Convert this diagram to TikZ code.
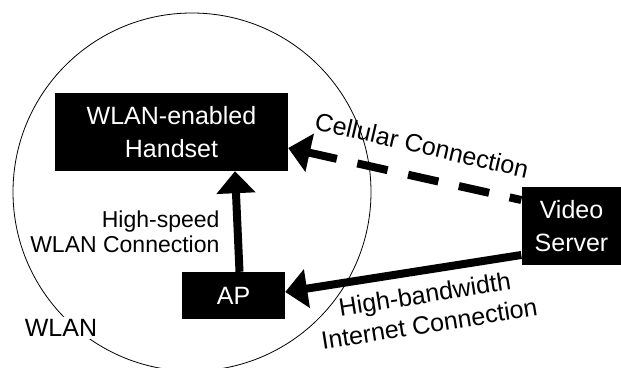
\documentclass[tikz,border=0pt]{standalone}
\usepackage{fontspec}
\setmainfont{Liberation Sans}
\usepackage{tikz}
\usetikzlibrary{
  arrows.meta,
  positioning
}

\begin{document}
\begin{tikzpicture}[x=1pt, y=-1pt, font=\fontsize{25}{30}\selectfont,
  unit/.style={fill=black, text=white, align=center, inner sep=0pt,
    font=\fontsize{25}{33}\selectfont},
  link/.style={line width=8pt, -{Triangle[length=22pt,width=38pt]}}]
  \useasboundingbox (0,0) rectangle (621,367);
  \clip (0,0) rectangle (621,367);
  % WLAN coverage
  \draw[line width=0.8pt] (192,192) circle[radius=179];
  \node[fill=white, inner sep=2pt] (wlan) at (61,328) {WLAN};
  % boxes
  \foreach \nm/\x/\y/\w/\h/\txt in {handset/171.5/132/233/78/{WLAN-enabled\\Handset},
      ap/233.5/295.5/103/47/{AP}, server/571.5/226/100/78/{Video\\Server}}{
    \node[unit, minimum width=\w pt, minimum height=\h pt] (\nm) at (\x,\y) {\txt};
  }
  % connections
  \draw[link] ([xshift=6pt]ap.north) -- ([xshift=63.5pt]handset.south);
  \draw[link, dash pattern=on 31pt off 21pt, dash phase=19pt]
    ([yshift=26pt]server.west) -- ([yshift=-16pt]handset.east);
  \draw[link] ([yshift=-29pt]server.west) -- ([yshift=3.5pt]ap.east);
  \node[anchor=east, align=right, font=\fontsize{23}{25}\selectfont] (speed) at (223,232)
    {High-speed\\WLAN Connection};
  \node[rotate=-13] (cell) at (422,145) {Cellular Connection};
  \node[rotate=9, align=center] (inet) at (427,309) {High-bandwidth\\Internet Connection};
\end{tikzpicture}
\end{document}
